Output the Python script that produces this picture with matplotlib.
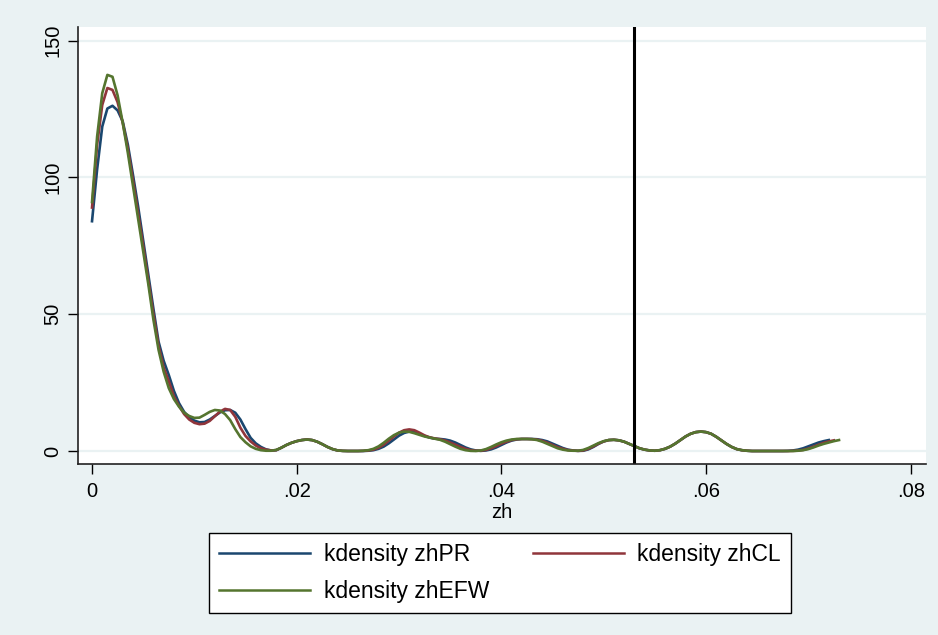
import numpy as np
import matplotlib
matplotlib.use("Agg")
import matplotlib.pyplot as plt

step = 0.0005

zhPR = [84, 103, 118.6, 125.2, 126.2, 124.5, 120.5, 112, 101, 89.5,
        77, 64.5, 52, 40, 33, 27.8, 22, 17.5, 14.3, 12.3,
        11.1, 10.5, 10.6, 11.5, 12.8, 14.1, 14.9, 15.0, 14.0, 11.5,
        8.0, 4.8, 2.8, 1.5, 0.6, 0.2, 0.3, 1.2, 2.2, 3.0,
        3.6, 4.0, 4.2, 4.0, 3.4, 2.5, 1.5, 0.7, 0.2, 0.05,
        0, 0, 0, 0, 0.1, 0.3, 0.8, 1.6, 2.8, 4.2,
        5.6, 6.6, 7.1, 7.0, 6.3, 5.5, 4.9, 4.5, 4.4, 4.2,
        3.8, 3.1, 2.2, 1.3, 0.6, 0.2, 0.05, 0.2, 0.6, 1.3,
        2.2, 3.1, 3.8, 4.2, 4.4, 4.4, 4.4, 4.3, 4.0, 3.5,
        2.7, 1.9, 1.1, 0.5, 0.2, 0.05, 0.1, 0.6, 1.5, 2.6,
        3.5, 4.0, 4.1, 3.9, 3.4, 2.6, 1.8, 1.0, 0.5, 0.2,
        0.1, 0.3, 0.8, 1.6, 2.7, 4.0, 5.3, 6.3, 6.9, 7.1,
        6.9, 6.3, 5.2, 3.9, 2.6, 1.5, 0.7, 0.3, 0.1, 0,
        0, 0, 0, 0, 0, 0, 0.05, 0.2, 0.5, 1.0,
        1.7, 2.4, 3.1, 3.6, 4.0]

zhCL = [89, 112, 126.5, 132.7, 132.0, 127.5, 120, 110.5, 99, 87,
        75, 62.5, 50, 38.5, 30.5, 25.5, 20, 16.5, 13.5, 11.5,
        10.3, 9.8, 10.0, 11.0, 12.7, 14.4, 15.4, 15.0, 12.5, 8.5,
        5.5, 3.5, 2.0, 1.0, 0.5, 0.2, 0.3, 1.2, 2.2, 3.0,
        3.6, 4.0, 4.2, 4.0, 3.4, 2.5, 1.5, 0.7, 0.2, 0.05,
        0, 0, 0, 0.05, 0.2, 0.5, 1.2, 2.3, 3.8, 5.3,
        6.7, 7.6, 7.9, 7.6, 6.7, 5.7, 5.0, 4.6, 4.3, 3.8,
        3.1, 2.3, 1.5, 0.8, 0.3, 0.1, 0.1, 0.4, 1.0, 1.8,
        2.7, 3.4, 4.0, 4.3, 4.4, 4.4, 4.35, 4.15, 3.7, 3.0,
        2.2, 1.4, 0.8, 0.35, 0.15, 0.05, 0.2, 0.8, 1.7, 2.7,
        3.5, 4.0, 4.1, 3.9, 3.4, 2.6, 1.8, 1.0, 0.5, 0.2,
        0.1, 0.3, 0.8, 1.6, 2.7, 4.0, 5.3, 6.3, 6.9, 7.1,
        6.9, 6.3, 5.2, 3.9, 2.6, 1.5, 0.7, 0.3, 0.1, 0,
        0, 0, 0, 0, 0, 0, 0, 0.05, 0.15, 0.4,
        0.9, 1.6, 2.3, 3.0, 3.5, 3.9]

zhEFW = [91, 115, 130.8, 137.5, 136.8, 130, 120, 109, 97, 85,
         73, 61, 48, 37, 29, 23, 19, 16.2, 14, 12.8,
         12.1, 12.2, 13.2, 14.3, 15.0, 14.8, 13.5, 11.3, 8.0, 5.1,
         3.2, 1.7, 0.8, 0.3, 0.1, 0.1, 0.4, 1.2, 2.2, 3.0,
         3.6, 4.0, 4.2, 4.0, 3.4, 2.5, 1.5, 0.7, 0.2, 0.05,
         0, 0, 0, 0.1, 0.3, 0.8, 1.7, 3.0, 4.5, 5.8,
         6.7, 7.1, 7.0, 6.5, 5.9, 5.3, 4.9, 4.5, 4.1, 3.4,
         2.5, 1.6, 0.8, 0.3, 0.05, 0, 0.2, 0.7, 1.5, 2.4,
         3.2, 3.8, 4.2, 4.4, 4.4, 4.4, 4.3, 4.0, 3.4, 2.6,
         1.8, 1.0, 0.5, 0.2, 0.1, 0.1, 0.4, 1.1, 2.0, 2.9,
         3.6, 4.0, 4.1, 3.9, 3.4, 2.6, 1.8, 1.0, 0.5, 0.2,
         0.1, 0.3, 0.8, 1.6, 2.7, 4.0, 5.3, 6.3, 6.9, 7.1,
         6.9, 6.3, 5.2, 3.9, 2.6, 1.5, 0.7, 0.3, 0.1, 0,
         0, 0, 0, 0, 0, 0, 0, 0, 0.1, 0.3,
         0.7, 1.3, 2.0, 2.6, 3.1, 3.6, 4.0]

series = [("kdensity zhPR", zhPR, "#1a476f"),
          ("kdensity zhCL", zhCL, "#90353b"),
          ("kdensity zhEFW", zhEFW, "#55752f")]

xline = 0.053
xticks = [0, 0.02, 0.04, 0.06, 0.08]
xticklabels = ["0", ".02", ".04", ".06", ".08"]
yticks = [0, 50, 100, 150]

plt.rcParams["font.family"] = ["Liberation Sans", "DejaVu Sans"]
bg = "#eaf2f3"

fig = plt.figure(figsize=(9.38, 6.35), dpi=100, facecolor=bg)
ax = fig.add_axes([78 / 938, 1 - 464 / 635, 848 / 938, 437 / 635])
ax.set_facecolor("white")

handles = []
for label, vals, col in series:
    xs = np.arange(len(vals)) * step
    h, = ax.plot(xs, vals, color=col, lw=1.9, label=label)
    handles.append(h)

ax.axvline(xline, color="black", lw=2.2)

ax.set_xlim(-0.00137, 0.0815)
ax.set_ylim(-4.75, 155)
ax.set_xticks(xticks)
ax.set_xticklabels(xticklabels)
ax.set_yticks(yticks)
ax.set_yticklabels([str(v) for v in yticks], rotation=90, va="center")
ax.tick_params(axis="both", length=7, width=1, labelsize=14.5, color="black")
ax.tick_params(axis="x", pad=6)
ax.tick_params(axis="y", pad=4)

ax.yaxis.grid(True, color=bg, lw=1.6)
ax.set_axisbelow(True)
for side in ["top", "right"]:
    ax.spines[side].set_visible(False)
for side in ["left", "bottom"]:
    ax.spines[side].set_color("#222222")
    ax.spines[side].set_linewidth(1.2)

ax.set_xlabel("zh", fontsize=14.5, labelpad=1.5)

# legend below the plot: PR, CL on the first row, EFW on the second
leg = fig.legend([handles[0], handles[2], handles[1]],
                 ["kdensity zhPR", "kdensity zhEFW", "kdensity zhCL"],
                 ncol=2, loc="center", bbox_to_anchor=(500 / 938, 1 - 573 / 635),
                 fontsize=16.5, frameon=True, fancybox=False, framealpha=1,
                 edgecolor="black", handlelength=3.97, handletextpad=0.57,
                 columnspacing=1.92, borderpad=0.45, labelspacing=0.57)
leg.get_frame().set_linewidth(1.0)
for line in leg.get_lines():
    line.set_linewidth(1.8)

plt.savefig("out.png", dpi=100, facecolor=bg)
